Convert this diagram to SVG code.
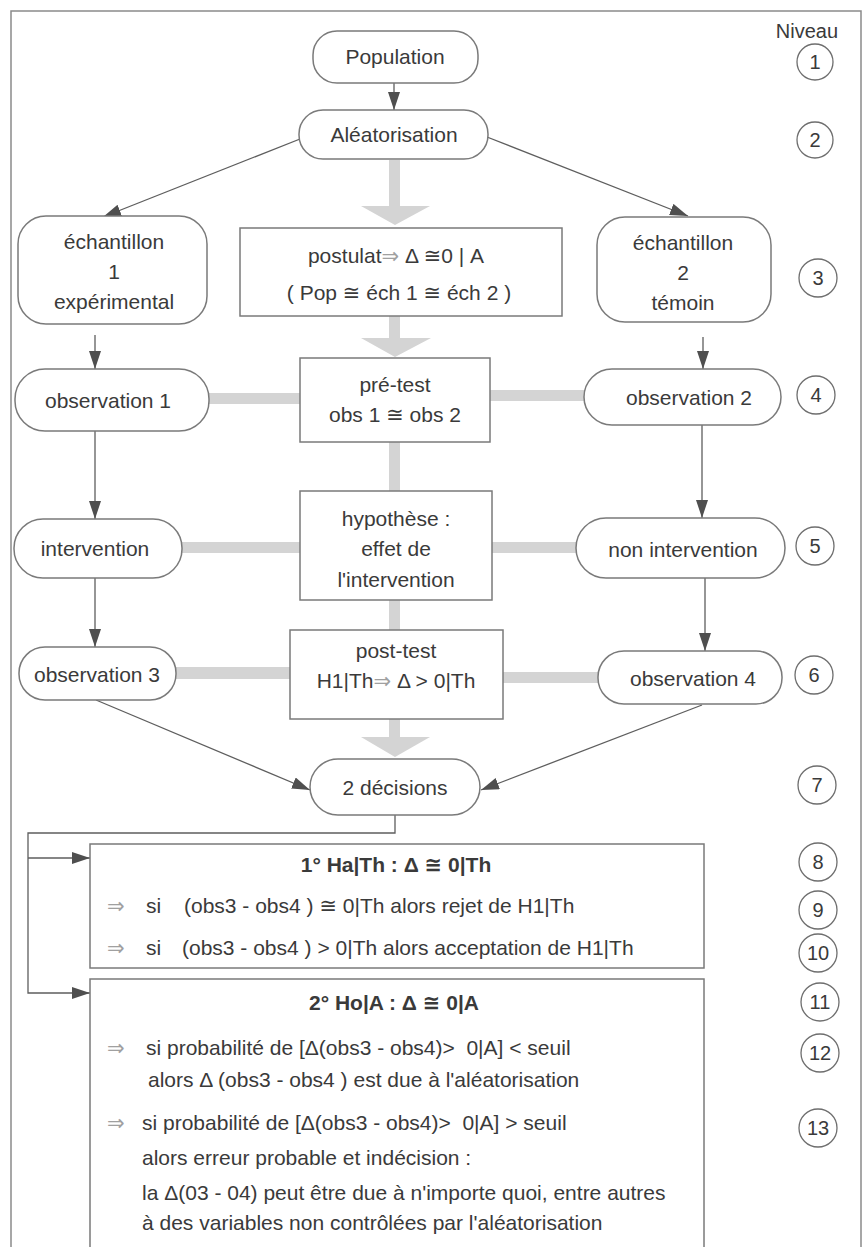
<svg xmlns="http://www.w3.org/2000/svg" width="864" height="1247" viewBox="0 0 864 1247">
  <defs>
    <style>
      text { font-family: "Liberation Sans", "DejaVu Sans", Arial, sans-serif; font-size: 21px; fill: #3a3a3a; white-space: pre; }
      .c { text-anchor: middle; }
      .b { font-weight: bold; }
      .num { font-size: 20px; text-anchor: middle; }
      .arr { fill: #a0a0a0; }
      .pill, .box { fill: #ffffff; stroke: #7a7a7a; stroke-width: 1.5; }
      .lvl { fill: none; stroke: #6e6e6e; stroke-width: 1.3; }
      .wire { fill: none; stroke: #5e5e5e; stroke-width: 1.3; }
      .band { fill: #d4d4d4; }
      .frame { fill: none; stroke: #8a8a8a; stroke-width: 1.5; }
    </style>
    <marker id="head" markerUnits="userSpaceOnUse" markerWidth="19" markerHeight="13" refX="18" refY="6" orient="auto">
      <path d="M0,0 L18,6 L0,12 Z" fill="#4f4f4f"/>
    </marker>
  </defs>

  <rect x="0" y="0" width="864" height="1247" fill="#ffffff"/>
  <rect class="frame" x="11" y="11" width="850" height="1260"/>

  <!-- wide grey links between the central boxes and the side nodes -->
  <g id="bands">
    <path class="band" d="M389,160 H400 V206 H430 L395,225 L361,206 H389 Z"/>
    <path class="band" d="M389,316 H400 V338 H431 L395,357 L361,338 H389 Z"/>
    <path class="band" d="M389,718 H400 V737 H430 L395,757 L361,737 H389 Z"/>
    <rect class="band" x="389" y="441" width="11" height="51"/>
    <rect class="band" x="389" y="599" width="11" height="32"/>
    <rect class="band" x="209" y="393" width="91" height="11"/>
    <rect class="band" x="490" y="390" width="94" height="11"/>
    <rect class="band" x="182" y="542" width="118" height="11"/>
    <rect class="band" x="492" y="542" width="84" height="11"/>
    <rect class="band" x="176" y="667" width="114" height="12"/>
    <rect class="band" x="503" y="672" width="95" height="11"/>
  </g>

  <!-- thin arrows -->
  <g id="connectors">
    <line class="wire" x1="394" y1="83" x2="394" y2="110" marker-end="url(#head)"/>
    <line class="wire" x1="300" y1="139" x2="103" y2="217" marker-end="url(#head)"/>
    <line class="wire" x1="487" y1="137" x2="688" y2="216" marker-end="url(#head)"/>
    <line class="wire" x1="95" y1="335" x2="95" y2="369" marker-end="url(#head)"/>
    <line class="wire" x1="703" y1="337" x2="703" y2="369" marker-end="url(#head)"/>
    <line class="wire" x1="95" y1="431" x2="95" y2="519" marker-end="url(#head)"/>
    <line class="wire" x1="702" y1="425" x2="702" y2="518" marker-end="url(#head)"/>
    <line class="wire" x1="95" y1="578" x2="95" y2="647" marker-end="url(#head)"/>
    <line class="wire" x1="705" y1="578" x2="705" y2="651" marker-end="url(#head)"/>
    <line class="wire" x1="96" y1="700" x2="310" y2="790" marker-end="url(#head)"/>
    <line class="wire" x1="702" y1="705" x2="481" y2="790" marker-end="url(#head)"/>
    <polyline class="wire" points="395,815 395,833 28,833 28,993 90,993" marker-end="url(#head)"/>
    <polyline class="wire" points="28,858 90,858" marker-end="url(#head)"/>
  </g>

  <g id="population">
    <rect class="pill" x="313" y="31" width="165" height="52" rx="24"/>
    <text class="c" x="395" y="64">Population</text>
  </g>
  <g id="aleatorisation">
    <rect class="pill" x="299" y="110" width="189" height="49" rx="24"/>
    <text class="c" x="394" y="142">Aléatorisation</text>
  </g>
  <g id="echantillon1">
    <rect class="pill" x="18" y="216" width="189" height="108" rx="28"/>
    <text class="c" x="114" y="249">échantillon</text>
    <text class="c" x="114" y="279">1</text>
    <text class="c" x="114" y="309">expérimental</text>
  </g>
  <g id="postulat">
    <rect class="box" x="240" y="228" width="322" height="88"/>
    <text class="c" x="396" y="263">postulat<tspan class="arr">⇒</tspan> Δ ≅0 | A</text>
    <text class="c" x="399" y="300">( Pop ≅ éch 1 ≅ éch 2 )</text>
  </g>
  <g id="echantillon2">
    <rect class="pill" x="597" y="217" width="174" height="105" rx="28"/>
    <text class="c" x="683" y="250">échantillon</text>
    <text class="c" x="683" y="280">2</text>
    <text class="c" x="683" y="310">témoin</text>
  </g>

  <g id="observation1">
    <rect class="pill" x="15" y="369" width="194" height="62" rx="30"/>
    <text class="c" x="108" y="408">observation 1</text>
  </g>
  <g id="pretest">
    <rect class="box" x="300" y="358" width="190" height="84"/>
    <text class="c" x="395" y="392">pré-test</text>
    <text class="c" x="395" y="422">obs 1 ≅ obs 2</text>
  </g>
  <g id="observation2">
    <rect class="pill" x="584" y="369" width="197" height="56" rx="28"/>
    <text class="c" x="689" y="405">observation 2</text>
  </g>

  <g id="intervention">
    <rect class="pill" x="14" y="519" width="168" height="59" rx="29"/>
    <text class="c" x="95" y="556">intervention</text>
  </g>
  <g id="hypothese">
    <rect class="box" x="300" y="491" width="192" height="109"/>
    <text class="c" x="396" y="526">hypothèse :</text>
    <text class="c" x="396" y="556">effet de</text>
    <text class="c" x="396" y="587">l'intervention</text>
  </g>
  <g id="non-intervention">
    <rect class="pill" x="576" y="518" width="209" height="60" rx="30"/>
    <text class="c" x="683" y="557">non intervention</text>
  </g>

  <g id="observation3">
    <rect class="pill" x="19" y="647" width="157" height="53" rx="26"/>
    <text class="c" x="97" y="682">observation 3</text>
  </g>
  <g id="posttest">
    <rect class="box" x="290" y="630" width="213" height="89"/>
    <text class="c" x="396" y="658">post-test</text>
    <text class="c" x="396" y="688">H1|Th<tspan class="arr">⇒</tspan> Δ &gt; 0|Th</text>
  </g>
  <g id="observation4">
    <rect class="pill" x="598" y="651" width="184" height="53" rx="26"/>
    <text class="c" x="693" y="686">observation 4</text>
  </g>

  <g id="decisions">
    <rect class="pill" x="310" y="759" width="170" height="56" rx="28"/>
    <text class="c" x="395" y="795">2 décisions</text>
  </g>

  <g id="decision1">
    <rect class="box" x="90" y="844" width="614" height="124"/>
    <text class="c b" x="396" y="872">1° Ha|Th : Δ ≅ 0|Th</text>
    <text y="913"><tspan class="arr" x="107">⇒</tspan><tspan x="146">si</tspan><tspan x="184">(obs3 - obs4 ) ≅ 0|Th alors rejet de H1|Th</tspan></text>
    <text y="955"><tspan class="arr" x="107">⇒</tspan><tspan x="146">si</tspan><tspan x="182">(obs3 - obs4 ) &gt; 0|Th alors acceptation de H1|Th</tspan></text>
  </g>

  <g id="decision2">
    <rect class="box" x="90" y="979" width="614" height="290"/>
    <text class="c b" x="394" y="1010">2° Ho|A : Δ ≅ 0|A</text>
    <text y="1055"><tspan class="arr" x="107">⇒</tspan><tspan x="146">si probabilité de [Δ(obs3 - obs4)&gt;  0|A] &lt; seuil</tspan></text>
    <text x="148" y="1087">alors Δ (obs3 - obs4 ) est due à l'aléatorisation</text>
    <text y="1130"><tspan class="arr" x="107">⇒</tspan><tspan x="142">si probabilité de [Δ(obs3 - obs4)&gt;  0|A] &gt; seuil</tspan></text>
    <text x="142" y="1165">alors erreur probable et indécision :</text>
    <text x="142" y="1200">la Δ(03 - 04) peut être due à n'importe quoi, entre autres</text>
    <text x="142" y="1230">à des variables non contrôlées par l'aléatorisation</text>
  </g>

  <!-- level scale on the right -->
  <g id="niveaux">
    <text class="num" x="807" y="38">Niveau</text>
    <circle class="lvl" cx="815" cy="62" r="18"/><text class="num" x="815" y="69">1</text>
    <circle class="lvl" cx="815" cy="140" r="18"/><text class="num" x="815" y="147">2</text>
    <circle class="lvl" cx="818" cy="278" r="19"/><text class="num" x="818" y="285">3</text>
    <circle class="lvl" cx="816" cy="395" r="19"/><text class="num" x="816" y="402">4</text>
    <circle class="lvl" cx="815" cy="546" r="19"/><text class="num" x="815" y="553">5</text>
    <circle class="lvl" cx="814" cy="675" r="19"/><text class="num" x="814" y="682">6</text>
    <circle class="lvl" cx="817" cy="785" r="19"/><text class="num" x="817" y="792">7</text>
    <circle class="lvl" cx="818" cy="862" r="19"/><text class="num" x="818" y="869">8</text>
    <circle class="lvl" cx="818" cy="910" r="19"/><text class="num" x="818" y="917">9</text>
    <circle class="lvl" cx="818" cy="953" r="19"/><text class="num" x="818" y="960">10</text>
    <circle class="lvl" cx="820" cy="1002" r="19"/><text class="num" x="820" y="1009">11</text>
    <circle class="lvl" cx="820" cy="1053" r="19"/><text class="num" x="820" y="1060">12</text>
    <circle class="lvl" cx="818" cy="1128" r="19"/><text class="num" x="818" y="1135">13</text>
  </g>
</svg>
